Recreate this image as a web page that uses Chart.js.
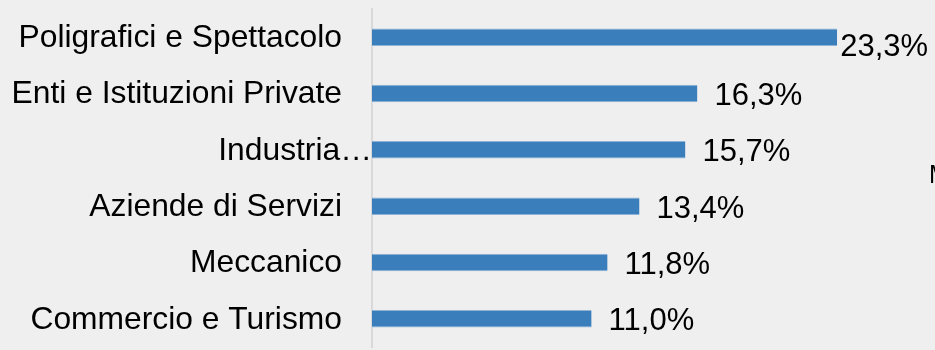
<!DOCTYPE html>
<html lang="it">
  <head>
    <meta charset="UTF-8" />
    <title>Settori - Bar Chart</title>
    <style>
      html, body { margin: 0; padding: 0; background: #efefef; }
      .container--barChart { position: relative; width: 935px; height: 350px; }
    </style>
  </head>
  <body>
    <main>
      <div class="container--barChart">
        <canvas id="myChart"></canvas>
      </div>
    </main>
    <script src="https://cdn.jsdelivr.net/npm/chart.js@4.4.1/dist/chart.umd.min.js"></script>
    <script>
      const categories = [
        'Poligrafici e Spettacolo',
        'Enti e Istituzioni Private',
        'Industria…',
        'Aziende di Servizi',
        'Meccanico',
        'Commercio e Turismo',
      ];
      const values = [23.3, 16.3, 15.7, 13.4, 11.8, 11.0];

      const fontFamily = '"Liberation Sans", Arial, sans-serif';

      // y labels and value labels are drawn by hand to match the original placement
      const labelsPlugin = {
        id: 'labels',
        afterDatasetsDraw(chart) {
          const { ctx, chartArea, scales } = chart;
          const meta = chart.getDatasetMeta(0);
          ctx.save();
          ctx.fillStyle = '#000';
          ctx.textBaseline = 'middle';

          // category labels
          ctx.font = '31.8px ' + fontFamily;
          ctx.textAlign = 'right';
          categories.forEach((cat, i) => {
            const y = scales.y.getPixelForValue(i) + 1;
            const x = cat.endsWith('…') ? chartArea.left : chartArea.left - 30;
            ctx.fillText(cat, x, y);
          });

          // value labels
          ctx.font = '31px ' + fontFamily;
          ctx.textAlign = 'left';
          meta.data.forEach((bar, i) => {
            const text = values[i].toFixed(1).replace('.', ',') + '%';
            const w = ctx.measureText(text).width;
            let x = bar.x + 17;
            let y = bar.y + 3;
            if (x + w > chart.width - 7) {
              x = bar.x + 3;
              y += 7;
            }
            ctx.fillText(text, x, y);
          });

          // cut-off text at the right edge
          ctx.font = '25px ' + fontFamily;
          ctx.fillText('M', 929, 176);
          ctx.restore();
        },
      };

      const data = {
        labels: categories,
        datasets: [
          {
            data: values,
            backgroundColor: '#3a7fbb',
            borderColor: '#8db2d6',
            borderWidth: { top: 1, bottom: 1, left: 0, right: 0 },
            borderSkipped: false,
            barPercentage: 0.31,
            categoryPercentage: 1,
          },
        ],
      };

      const config = {
        type: 'bar',
        data: data,
        options: {
          indexAxis: 'y',
          animation: { duration: 0 },
          responsive: true,
          maintainAspectRatio: false,
          layout: { padding: { top: 9, bottom: 3, right: 4, left: 0 } },
          plugins: {
            legend: { display: false },
            tooltip: { enabled: false },
          },
          scales: {
            x: {
              display: false,
              min: 0,
              max: 28,
            },
            y: {
              afterFit(scale) {
                scale.width = 372;
              },
              grid: { display: false, drawTicks: false },
              border: { display: true, color: '#d9d9d9', width: 2 },
              ticks: { display: false },
            },
          },
        },
        plugins: [labelsPlugin],
      };

      const myChart = new Chart(document.getElementById('myChart'), config);
    </script>
  </body>
</html>
